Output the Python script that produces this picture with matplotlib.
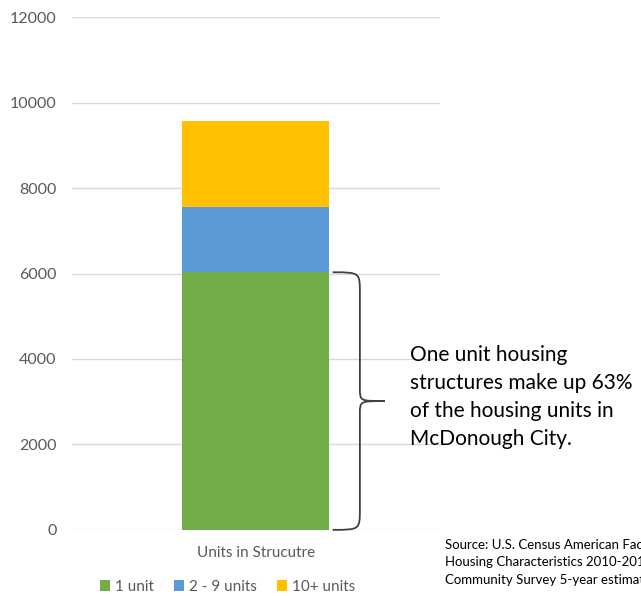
import matplotlib
matplotlib.use("Agg")
import matplotlib.pyplot as plt
from matplotlib.path import Path
from matplotlib.patches import PathPatch
import matplotlib.transforms as mtransforms

# 数据
category = "Units in Strucutre"
series_names = ["1 unit", "2 - 9 units", "10+ units"]
series_values = [6030, 1525, 2010]
series_colors = ["#70AD47", "#5B9BD5", "#FFC000"]
y_ticks = [0, 2000, 4000, 6000, 8000, 10000, 12000]

note_text = ("One unit housing\nstructures make up 63%\n"
             "of the housing units in\nMcDonough City.")
source_text = ("Source: U.S. Census American FactFinder, Selected\n"
               "Housing Characteristics 2010-2014 American\n"
               "Community Survey 5-year estimates")

plt.rcParams['font.family'] = ['Lato', 'DejaVu Sans']
grey = "#595959"

fig = plt.figure(figsize=(6.41, 5.96), dpi=100)
ax = fig.add_axes([0.112, 0.111, 0.574, 0.860])

bottom = 0
for name, val, col in zip(series_names, series_values, series_colors):
    ax.bar([0], [val], bottom=bottom, width=0.4, color=col, label=name, zorder=3)
    bottom += val

ax.set_xlim(-0.5, 0.5)
ax.set_ylim(0, 12000)
ax.set_yticks(y_ticks)
ax.set_yticklabels([str(t) for t in y_ticks], fontsize=11.5, color=grey)
ax.set_xticks([])
ax.grid(axis='y', color="#D9D9D9", linewidth=1, zorder=0)
ax.tick_params(axis='y', length=0, pad=11)
for s in ax.spines.values():
    s.set_visible(False)

# 类别标签
ax.text(0.5, -0.045, category, transform=ax.transAxes, ha='center', va='center',
        fontsize=11, color=grey)

# 图例
leg = fig.legend(loc='center', bbox_to_anchor=(0.355, 0.015), ncol=3, frameon=False,
                 fontsize=11, handlelength=0.7, handleheight=0.7, handletextpad=0.3,
                 columnspacing=1.3)
for t in leg.get_texts():
    t.set_color(grey)

# 大括号，x 用轴坐标，y 用数据坐标
trans = mtransforms.blended_transform_factory(ax.transAxes, ax.transData)
top = series_values[0]
mid = top / 2
x0, x1, xt = 0.709, 0.783, 0.851
r = 250
verts = [
    (x0, top), (x1, top), (x1, top), (x1, top - r * 2),
    (x1, mid + r * 1.2),
    (x1, mid), (x1, mid), (xt, mid),
    (x1, mid), (x1, mid), (x1, mid - r * 1.2),
    (x1, r * 2),
    (x1, 0), (x1, 0), (x0, 0),
]
codes = [Path.MOVETO, Path.CURVE4, Path.CURVE4, Path.CURVE4,
         Path.LINETO,
         Path.CURVE4, Path.CURVE4, Path.CURVE4,
         Path.CURVE4, Path.CURVE4, Path.CURVE4,
         Path.LINETO,
         Path.CURVE4, Path.CURVE4, Path.CURVE4]
ax.add_patch(PathPatch(Path(verts, codes), transform=trans, fill=False,
                       edgecolor="#404040", linewidth=1.3, clip_on=False, zorder=4))

fig.text(0.640, 0.334, note_text, ha='left', va='center', fontsize=15,
         color="#000000", linespacing=1.5)
fig.text(0.694, 0.057, source_text, ha='left', va='center', fontsize=9.5,
         color="#000000", linespacing=1.6)

fig.savefig("out.png", dpi=100)
